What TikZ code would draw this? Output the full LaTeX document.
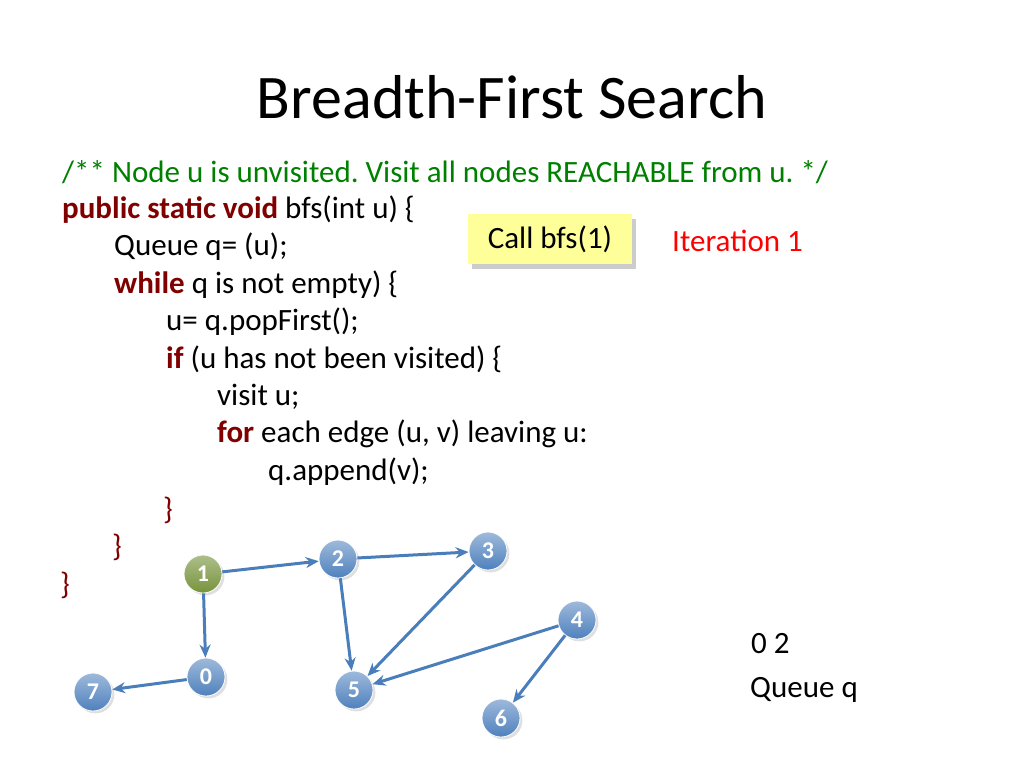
\documentclass[tikz,border=0pt]{standalone}
\usepackage{fontspec}
\setmainfont{Carlito}
\usetikzlibrary{shadows,arrows.meta}
\definecolor{cmt}{RGB}{0,128,0}
\definecolor{kw}{RGB}{128,0,0}
\definecolor{nblue}{RGB}{79,129,189}
\definecolor{ngreen}{RGB}{119,147,60}
\definecolor{edge}{RGB}{74,126,187}
\begin{document}
\frenchspacing
\begin{tikzpicture}[x=1pt,y=-1pt,
  code/.style={anchor=west,inner sep=0pt,font=\fontsize{31}{36}\selectfont},
  vtx/.style={circle,minimum size=38pt,inner sep=0pt,draw=white,line width=0.8pt,text=white,font=\bfseries\fontsize{24}{28}\selectfont,
    top color=nblue!55,bottom color=nblue,drop shadow={opacity=0.25}},
  vstart/.style={vtx,top color=ngreen!60,bottom color=ngreen},
  arc/.style={draw=edge,line width=3pt,-{Stealth[length=13pt,width=11pt]}}]
\useasboundingbox (0,0) rectangle (1024,768);
\node[font=\fontsize{62}{70}\selectfont] (title) at (512,97) {Breadth-First Search};
\node[code,text=cmt] (l1) at (62,172) {/** Node u is unvisited. Visit all nodes REACHABLE from u. */};
\node[code] (l2) at (62,210) {\textcolor{kw}{\textbf{public static void}} bfs(int u) \{};
\node[code] (l3) at (114,247) {Queue q= (u);};
\node[code] (l4) at (114,285) {\textcolor{kw}{\textbf{while}} q is not empty) \{};
\node[code] (l5) at (166,322) {u= q.popFirst();};
\node[code] (l6) at (166,359) {\textcolor{kw}{\textbf{if}} (u has not been visited) \{};
\node[code] (l7) at (217,397) {visit u;};
\node[code] (l8) at (217,434) {\textcolor{kw}{\textbf{for}} each edge (u, v) leaving u:};
\node[code] (l9) at (268,472) {q.append(v);};
\node[code,text=kw] (l10) at (163,510) {\}};
\node[code,text=kw] (l11) at (112,547) {\}};
\node[code,text=kw] (l12) at (60,585) {\}};
\node[fill={rgb,255:red,255;green,255;blue,153},minimum width=164pt,minimum height=50pt,inner sep=0pt,
  drop shadow={shadow xshift=4pt,shadow yshift=-5pt,opacity=0.4},font=\fontsize{31}{36}\selectfont] (call) at (550,239) {Call bfs(1)};
\node[code,text=red] (it) at (672,241) {Iteration 1};
\node[code] (q1) at (751,644) {0 2};
\node[code] (q2) at (750,690) {Queue q};
\node[vstart] (n1) at (203,574) {1};
\node[vtx] (n2) at (338,559) {2};
\node[vtx] (n3) at (488,551) {3};
\node[vtx] (n4) at (577,620) {4};
\node[vtx] (n0) at (206,677) {0};
\node[vtx] (n7) at (93,692) {7};
\node[vtx] (n5) at (354,690) {5};
\node[vtx] (n6) at (501,718) {6};
\draw[arc] (n1) -- (n2);
\draw[arc] (n1) -- (n0);
\draw[arc] (n0) -- (n7);
\draw[arc] (n2) -- (n3);
\draw[arc] (n2) -- (n5);
\draw[arc] (n3) -- (n5);
\draw[arc] (n4) -- (n5);
\draw[arc] (n4) -- (n6);
\end{tikzpicture}
\end{document}
